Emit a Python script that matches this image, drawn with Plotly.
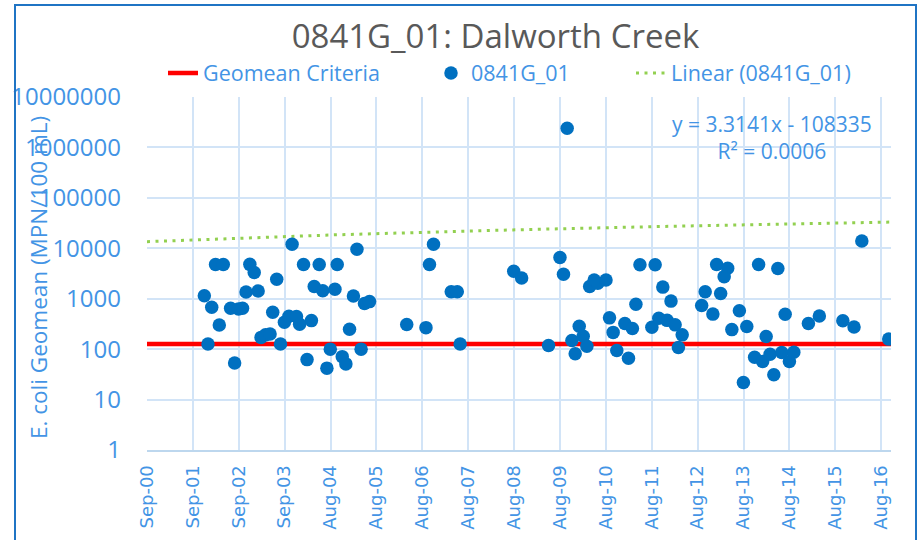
import pandas as pd
import plotly.graph_objects as go

# ---------------- data ----------------
title_text = "0841G_01: Dalworth Creek"
series_name = "0841G_01"
criteria_name = "Geomean Criteria"
trend_name = "Linear (0841G_01)"
y_title = "E. coli Geomean (MPN/100 mL)"

# sample dates as Excel date serials (days since 1899-12-30)
sample_serials = [
    37226, 37285, 37345, 37255, 37315, 37377, 37467, 37435, 37498, 37530,
    37558, 37654, 37588, 37623, 37802, 37924, 37770, 37677, 37713, 37749,
    37832, 37863, 37899, 37959, 37984, 38078, 38015, 38140, 38100, 38168,
    38265, 38283, 38043, 38201, 38228, 38323, 38440, 38412, 38500, 38540,
    38381, 38352, 38473, 39049, 39017, 38836, 38989, 39190, 39238, 39261,
    39687, 39750, 40055, 40083, 40291, 40327, 40356, 40421, 39964, 40150,
    40208, 40240, 40269, 40176, 40449, 40478, 40571, 40631, 40507, 40600,
    40659, 40691, 40812, 40873, 40938, 40786, 40841, 40907, 40971, 41027,
    40997, 41182, 41210, 41271, 41301, 41389, 41361, 41333, 41482, 41422,
    41541, 41635, 41788, 41695, 41846, 41514, 41603, 41667, 41726, 41756,
    41819, 41880, 41915, 42031, 42118, 42305, 42394, 42456, 42670, 40112,
]
sample_values = [
    1140, 680, 300, 127, 4780, 4780, 53, 649, 628, 649,
    1364, 1427, 4800, 3320, 2430, 12000, 540, 171, 192, 199,
    126, 340, 450, 442, 313, 368, 4780, 4780, 1740, 1440,
    1540, 4780, 62, 42, 100, 71, 9600, 1135, 807, 876,
    249, 51, 100, 12000, 4780, 307, 267, 1380, 1380, 127,
    3500, 2580, 6570, 3060, 1740, 2360, 2030, 2360, 118, 148,
    285, 181, 114, 81, 417, 215, 321, 256, 94, 66,
    778, 4730, 4730, 1698, 896, 273, 411, 372, 303, 192,
    108, 737, 1380, 495, 4780, 4020, 2740, 1274, 578, 244,
    280, 4780, 3980, 178, 493, 21.7, 69, 57, 79, 31,
    86, 57, 87, 324, 456, 367, 276, 13960, 158, 2410000,
]

criteria_value = 126
trend_slope = 3.3141
trend_intercept = -108335
trend_r2 = 0.0006

axis_start = "2000-09-01"
axis_end = "2016-11-14"
tick_count = 17
tick_step = "365D"

y_tickvals = [1, 10, 100, 1000, 10000, 100000, 1000000, 10000000]
y_ticktext = ["1", "10", "100", "1000", "10000", "100000", "1000000", "10000000"]

# ---------------- styling ----------------
BLUE_TEXT = "#4394E5"
GRID = "#D2E4F7"
AXLINE = "#BDD7EE"
ORIGIN = "1899-12-30"

sample_dates = pd.to_datetime(pd.Series(sample_serials), unit="D", origin=ORIGIN)

trend_dates = pd.date_range(axis_start, axis_end, periods=300)
_delta = trend_dates - pd.Timestamp(ORIGIN)
trend_serials = _delta.days + _delta.seconds / 86400
trend_values = trend_slope * trend_serials + trend_intercept

tickvals = pd.date_range(axis_start, periods=tick_count, freq=tick_step)
ticktext = [d.strftime("%b-%y") for d in tickvals]

fig = go.Figure()

fig.add_trace(go.Scatter(
    x=[pd.Timestamp(axis_start), pd.Timestamp(axis_end)],
    y=[criteria_value, criteria_value],
    mode="lines", name=criteria_name,
    line=dict(color="#FF0000", width=4.5),
    legend="legend", showlegend=True,
))
fig.add_trace(go.Scatter(
    x=trend_dates, y=trend_values,
    mode="lines", name=trend_name,
    line=dict(color="#92D050", width=3, dash="3px,5.5px"),
    legend="legend3", showlegend=True,
))
fig.add_trace(go.Scatter(
    x=sample_dates, y=sample_values,
    mode="markers", name=series_name,
    marker=dict(color="#0070C0", size=13.5, line=dict(width=0)),
    legend="legend2", showlegend=True,
))

legend_common = dict(
    orientation="h", yanchor="middle", y=1.068, xanchor="left",
    bgcolor="rgba(0,0,0,0)", borderwidth=0,
    font=dict(family="Open Sans", size=21.5, color=BLUE_TEXT),
)

fig.update_layout(
    width=918, height=540,
    showlegend=True,
    margin=dict(l=147, r=27, t=97, b=90, autoexpand=False),
    paper_bgcolor="white", plot_bgcolor="white",
    title=dict(
        text=title_text, x=0.4684, xref="paper", xanchor="center",
        y=1 - 36 / 540, yref="container", yanchor="middle",
        font=dict(family="Open Sans", size=33, color="#595959"),
    ),
    legend=dict(x=(163 - 147) / 744, **legend_common),
    legend2=dict(x=(431 - 147) / 744, **legend_common),
    legend3=dict(x=(631 - 147) / 744, **legend_common),
    hovermode=False,
    xaxis=dict(
        type="date", range=[axis_start, axis_end],
        tickmode="array", tickvals=tickvals, ticktext=ticktext,
        tickangle=-90, ticks="", ticklabelstandoff=6,
        tickfont=dict(family="DejaVu Sans", size=18, color=BLUE_TEXT),
        showgrid=True, gridcolor=GRID, gridwidth=2,
        showline=True, linecolor=AXLINE, linewidth=2,
        zeroline=False,
    ),
    yaxis=dict(
        type="log", range=[0, 7],
        tickmode="array", tickvals=y_tickvals, ticktext=y_ticktext,
        ticks="", ticklabelstandoff=25,
        tickfont=dict(family="Open Sans", size=24, color=BLUE_TEXT),
        showgrid=True, gridcolor=GRID, gridwidth=2,
        showline=False, zeroline=False,
    ),
    annotations=[
        dict(
            text=y_title, textangle=-90, showarrow=False,
            xref="paper", yref="paper", x=(38 - 147) / 744, y=(450 - 278) / 353,
            xanchor="center", yanchor="middle",
            font=dict(family="Open Sans", size=22.5, color=BLUE_TEXT),
        ),
        dict(
            text=f"y = {trend_slope}x - {abs(trend_intercept)}<br>R² = {trend_r2}",
            showarrow=False, align="center",
            xref="paper", yref="paper", x=(772 - 147) / 744, y=(450 - 137.5) / 353,
            xanchor="center", yanchor="middle",
            font=dict(family="Open Sans", size=21, color=BLUE_TEXT),
        ),
    ],
    shapes=[
        dict(type="rect", xref="paper", yref="paper",
             x0=(15 - 147) / 744, x1=(916 - 147) / 744,
             y0=-0.3, y1=(450 - 5) / 353,
             line=dict(color="#1F74C4", width=2), fillcolor="rgba(0,0,0,0)", layer="above"),
    ],
)

fig.write_html(
    "out.html",
    config={"displayModeBar": False, "staticPlot": True},
    post_script="document.body.style.margin='0';document.body.style.overflow='hidden';",
)
